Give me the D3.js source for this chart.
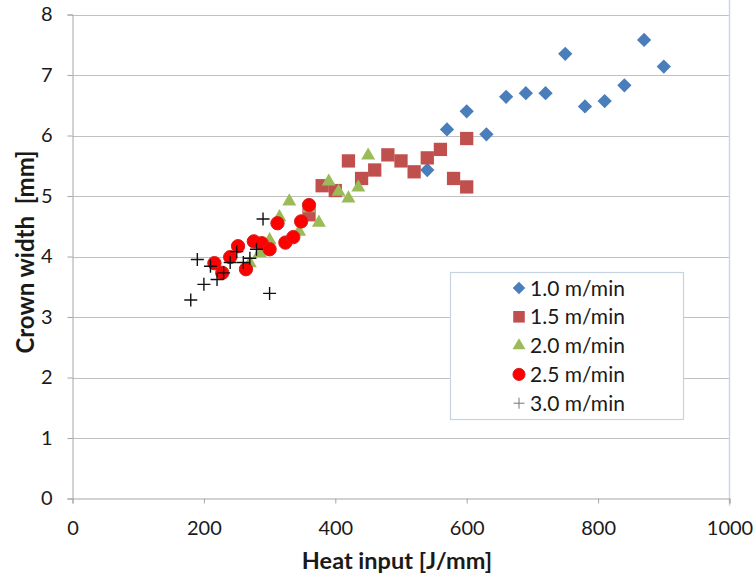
<!DOCTYPE html>
<html><head><meta charset="utf-8">
<script src="https://cdn.jsdelivr.net/npm/d3@7"></script>
<style>body{margin:0;background:#fff}svg{display:block}</style>
</head><body>
<svg id="c" width="754" height="576"></svg>
<script>
const xTicks = [0, 200, 400, 600, 800, 1000];
const yTicks = [0, 1, 2, 3, 4, 5, 6, 7, 8];
const seriesNames = ["1.0 m/min", "1.5 m/min", "2.0 m/min", "2.5 m/min", "3.0 m/min"];

const s10x = [540, 570, 600, 630, 660, 690, 720, 750, 780, 810, 840, 870, 900];
const s10y = [5.43, 6.10, 6.40, 6.02, 6.64, 6.70, 6.70, 7.35, 6.48, 6.57, 6.83, 7.58, 7.14];

const s15x = [360, 380, 400, 420, 440, 460, 480, 500, 520, 540, 560, 580, 600, 600];
const s15y = [4.69, 5.17, 5.09, 5.58, 5.29, 5.43, 5.68, 5.58, 5.40, 5.63, 5.77, 5.29, 5.95, 5.15];

const s20x = [270, 285, 300, 315, 330, 345, 360, 375, 390, 405, 420, 435, 450];
const s20y = [3.89, 4.06, 4.27, 4.65, 4.91, 4.41, 4.80, 4.56, 5.24, 5.07, 4.96, 5.14, 5.67];

const s25x = [216, 228, 240, 252, 264, 276, 288, 300, 312, 324, 336, 348, 360];
const s25y = [3.89, 3.73, 3.99, 4.17, 3.79, 4.25, 4.22, 4.12, 4.55, 4.23, 4.32, 4.58, 4.85];

const s30x = [180, 190, 200, 210, 220, 230, 240, 250, 260, 270, 280, 290, 300];
const s30y = [3.28, 3.95, 3.54, 3.84, 3.62, 3.73, 3.90, 4.08, 3.90, 3.97, 4.12, 4.62, 3.39];

const svg = d3.select("#c");
const x = d3.scaleLinear().domain([0, 1000]).range([72.5, 729.5]);
const y = d3.scaleLinear().domain([0, 8]).range([498.5, 14.5]);
const font = "Lato, 'Open Sans', 'Liberation Sans', sans-serif";

// gridlines
svg.append("g").selectAll("line").data(yTicks.filter(d => d > 0)).join("line")
  .attr("x1", x(0)).attr("x2", x(1000))
  .attr("y1", d => Math.round(y(d)) + 0.5).attr("y2", d => Math.round(y(d)) + 0.5)
  .attr("stroke", "#c0c0c0").attr("stroke-width", 1);

// right border
svg.append("line").attr("x1", x(1000)).attr("x2", x(1000)).attr("y1", 0).attr("y2", 506)
  .attr("stroke", "#c9d8ea").attr("stroke-width", 1.5);

// axes
const yAxis = d3.axisLeft(y).tickValues(yTicks).tickSize(5).tickPadding(15).tickFormat(d3.format("d"));
const gy = svg.append("g").attr("transform", `translate(${x(0)},0)`).call(yAxis);
const xAxis = d3.axisBottom(x).tickValues(xTicks).tickSize(5).tickPadding(17).tickFormat(d3.format("d"));
const gx = svg.append("g").attr("transform", `translate(0,${y(0)})`).call(xAxis);
[gx, gy].forEach(g => {
  g.select(".domain").attr("stroke", "#a6a6a6");
  g.selectAll(".tick line").attr("stroke", "#a6a6a6");
  g.selectAll(".tick text").attr("fill", "#1a1a1a").style("font-family", font).style("font-size", "20px");
});

// axis titles
svg.append("text").attr("x", 397).attr("y", 569).attr("text-anchor", "middle")
  .style("font-family", font).style("font-size", "23.5px").style("font-weight", "bold").attr("fill", "#1a1a1a")
  .text("Heat input [J/mm]");
svg.append("text").attr("transform", "translate(34,252) rotate(-90)").attr("text-anchor", "middle")
  .style("font-family", font).style("font-size", "24px").style("font-weight", "bold").attr("fill", "#1a1a1a")
  .style("white-space", "pre").text("Crown width  [mm]");

// markers
const sym = {
  diamond: d3.symbol().type(d3.symbolDiamond2).size(130),
  square: d3.symbol().type(d3.symbolSquare2).size(225),
  triangle: d3.symbol().type(d3.symbolTriangle2).size(140),
  circle: d3.symbol().type(d3.symbolCircle).size(140)
};
const styles = [
  {xs: s10x, ys: s10y, s: "diamond", fill: "#4a7ebb", stroke: "none"},
  {xs: s15x, ys: s15y, s: "square", fill: "#c0504d", stroke: "none"},
  {xs: s20x, ys: s20y, s: "triangle", fill: "#9bbb59", stroke: "none"},
  {xs: s25x, ys: s25y, s: "circle", fill: "#ff0000", stroke: "#d42020"},
  {xs: s30x, ys: s30y, s: "cross", fill: "none", stroke: "#111"}
];
function plus(size) { const h = size / 2; return `M${-h},0H${h}M0,${-h}V${h}`; }
styles.forEach(st => {
  const pts = st.xs.map((v, i) => [v, st.ys[i]]);
  const g = svg.append("g");
  g.selectAll("path").data(pts).join("path")
    .attr("transform", d => `translate(${x(d[0])},${y(d[1])})`)
    .attr("d", st.s === "cross" ? plus(13) : sym[st.s]())
    .attr("fill", st.fill).attr("stroke", st.stroke)
    .attr("stroke-width", st.s === "cross" ? 1.4 : 1);
});

// legend
const lg = svg.append("g");
lg.append("rect").attr("x", 450.5).attr("y", 272.5).attr("width", 233).attr("height", 147)
  .attr("fill", "#fff").attr("stroke", "#c5d3e3").attr("stroke-width", 1.2);
const legSym = {
  diamond: d3.symbol().type(d3.symbolDiamond2).size(100),
  square: d3.symbol().type(d3.symbolSquare2).size(170),
  triangle: d3.symbol().type(d3.symbolTriangle2).size(120),
  circle: d3.symbol().type(d3.symbolCircle).size(115)
};
seriesNames.forEach((n, i) => {
  const cy = 288 + i * 28.8;
  const st = styles[i];
  lg.append("path").attr("transform", `translate(519,${cy})`)
    .attr("d", st.s === "cross" ? plus(11) : legSym[st.s]())
    .attr("fill", st.fill).attr("stroke", st.s === "cross" ? "#777" : st.stroke).attr("stroke-width", 1);
  lg.append("text").attr("x", 530).attr("y", cy).attr("dy", "0.36em")
    .style("font-family", font).style("font-size", "21px").attr("fill", "#1a1a1a").text(n);
});
</script>
</body></html>
